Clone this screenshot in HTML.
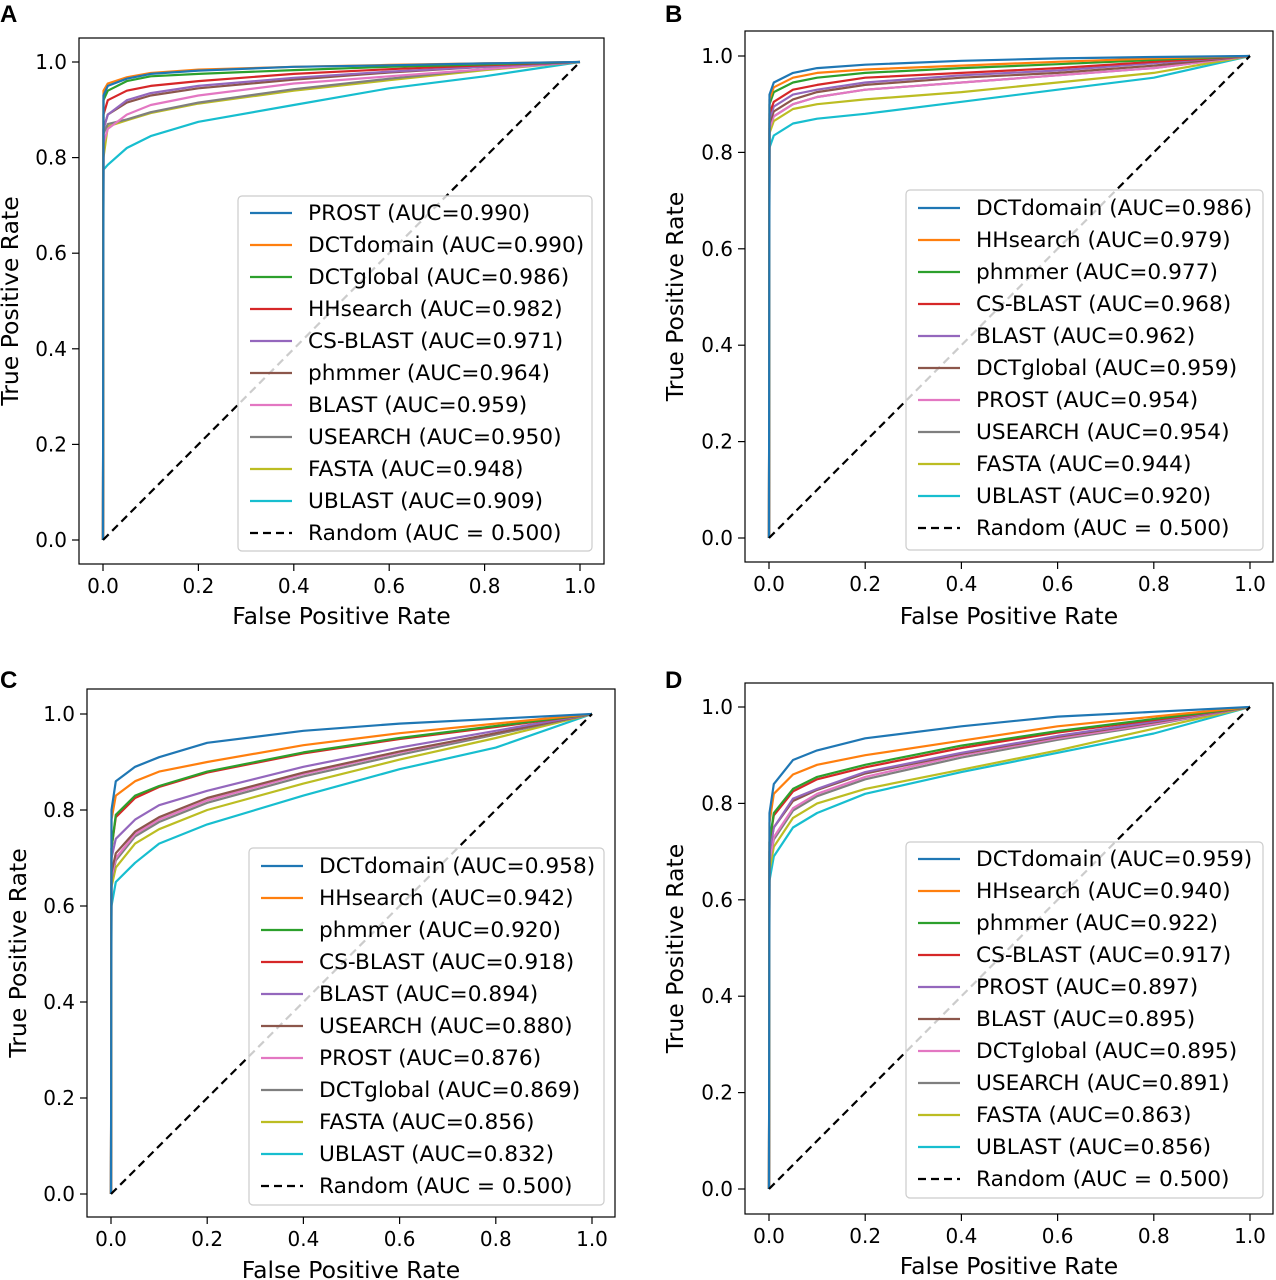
<!DOCTYPE html>
<html><head><meta charset="utf-8"><style>
body{margin:0;background:#fff;}
svg{display:block;font-family:"DejaVu Sans","Liberation Sans",sans-serif;}
</style></head><body>
<svg id="fig" width="1276" height="1280" viewBox="0 0 1276 1280" xmlns="http://www.w3.org/2000/svg"></svg>
<script>
const colors=["#1f77b4","#ff7f0e","#2ca02c","#d62728","#9467bd","#8c564b","#e377c2","#7f7f7f","#bcbd22","#17becf"];
const fprPoints=[0,0.001,0.01,0.05,0.1,0.2,0.4,0.6,0.8,1];
const ticks=[0,0.2,0.4,0.6,0.8,1.0];
const tickLabels=["0.0","0.2","0.4","0.6","0.8","1.0"];

const namesA=["PROST","DCTdomain","DCTglobal","HHsearch","CS-BLAST","phmmer","BLAST","USEARCH","FASTA","UBLAST"];
const aucA=["0.990","0.990","0.986","0.982","0.971","0.964","0.959","0.950","0.948","0.909"];
const tprA=[
[0,0.93,0.95,0.965,0.975,0.982,0.99,0.993,0.997,1],
[0,0.94,0.955,0.968,0.977,0.984,0.99,0.994,0.997,1],
[0,0.92,0.94,0.96,0.97,0.975,0.983,0.99,0.995,1],
[0,0.89,0.92,0.94,0.95,0.96,0.975,0.985,0.993,1],
[0,0.86,0.89,0.92,0.935,0.95,0.967,0.98,0.99,1],
[0,0.86,0.89,0.915,0.93,0.945,0.963,0.978,0.99,1],
[0,0.83,0.86,0.89,0.91,0.93,0.955,0.97,0.985,1],
[0,0.85,0.87,0.88,0.895,0.915,0.943,0.965,0.985,1],
[0,0.8,0.865,0.878,0.893,0.913,0.94,0.962,0.983,1],
[0,0.775,0.785,0.82,0.845,0.875,0.91,0.945,0.97,1]];

const namesB=["DCTdomain","HHsearch","phmmer","CS-BLAST","BLAST","DCTglobal","PROST","USEARCH","FASTA","UBLAST"];
const aucB=["0.986","0.979","0.977","0.968","0.962","0.959","0.954","0.954","0.944","0.920"];
const tprB=[
[0,0.92,0.945,0.965,0.975,0.982,0.99,0.995,0.998,1],
[0,0.91,0.935,0.955,0.965,0.972,0.98,0.988,0.995,1],
[0,0.9,0.925,0.945,0.955,0.965,0.975,0.983,0.992,1],
[0,0.88,0.905,0.93,0.94,0.955,0.965,0.975,0.988,1],
[0,0.87,0.895,0.92,0.93,0.945,0.96,0.97,0.985,1],
[0,0.86,0.885,0.91,0.925,0.94,0.955,0.965,0.98,1],
[0,0.85,0.875,0.9,0.915,0.93,0.945,0.96,0.975,1],
[0,0.85,0.875,0.9,0.915,0.93,0.945,0.96,0.975,1],
[0,0.84,0.865,0.89,0.9,0.91,0.925,0.945,0.965,1],
[0,0.81,0.835,0.86,0.87,0.88,0.905,0.93,0.955,1]];

const namesC=["DCTdomain","HHsearch","phmmer","CS-BLAST","BLAST","USEARCH","PROST","DCTglobal","FASTA","UBLAST"];
const aucC=["0.958","0.942","0.920","0.918","0.894","0.880","0.876","0.869","0.856","0.832"];
const tprC=[
[0,0.8,0.86,0.89,0.91,0.94,0.965,0.98,0.99,1],
[0,0.78,0.83,0.86,0.88,0.9,0.935,0.96,0.98,1],
[0,0.72,0.79,0.83,0.85,0.88,0.92,0.95,0.975,1],
[0,0.72,0.785,0.825,0.848,0.878,0.918,0.948,0.973,1],
[0,0.7,0.74,0.78,0.81,0.84,0.89,0.93,0.965,1],
[0,0.67,0.71,0.755,0.785,0.825,0.878,0.922,0.96,1],
[0,0.66,0.7,0.75,0.78,0.82,0.875,0.92,0.96,1],
[0,0.655,0.695,0.745,0.775,0.815,0.87,0.915,0.957,1],
[0,0.64,0.68,0.73,0.76,0.8,0.855,0.905,0.95,1],
[0,0.6,0.65,0.69,0.73,0.77,0.83,0.885,0.93,1]];

const namesD=["DCTdomain","HHsearch","phmmer","CS-BLAST","PROST","BLAST","DCTglobal","USEARCH","FASTA","UBLAST"];
const aucD=["0.959","0.940","0.922","0.917","0.897","0.895","0.895","0.891","0.863","0.856"];
const tprD=[
[0,0.78,0.84,0.89,0.91,0.935,0.96,0.98,0.99,1],
[0,0.76,0.82,0.86,0.88,0.9,0.93,0.96,0.98,1],
[0,0.72,0.78,0.83,0.855,0.88,0.92,0.95,0.975,1],
[0,0.72,0.775,0.825,0.85,0.875,0.915,0.947,0.973,1],
[0,0.7,0.75,0.81,0.83,0.865,0.905,0.94,0.97,1],
[0,0.7,0.75,0.805,0.828,0.862,0.903,0.938,0.968,1],
[0,0.68,0.73,0.79,0.82,0.855,0.9,0.935,0.965,1],
[0,0.68,0.725,0.785,0.815,0.85,0.895,0.932,0.963,1],
[0,0.66,0.71,0.77,0.8,0.83,0.87,0.91,0.955,1],
[0,0.64,0.69,0.75,0.78,0.82,0.865,0.905,0.945,1]];

const NS="http://www.w3.org/2000/svg";
const svg=document.getElementById('fig');
function mk(tag,attrs,parent){const e=document.createElementNS(NS,tag);for(const k in attrs)e.setAttribute(k,attrs[k]);(parent||svg).appendChild(e);return e;}

const panels=[
{letter:"A",lx:0,ly:22,box:[79,38,604,564],x0:103,x1:580,y0:540,y1:62,names:namesA,auc:aucA,tpr:tprA,leg:[238,196,592,551],ly0:213,xlabY:630,ylabX:18},
{letter:"B",lx:665,ly:22,box:[745,31,1273,562],x0:769,x1:1250,y0:538,y1:56,names:namesB,auc:aucB,tpr:tprB,leg:[906,190,1263,550],ly0:208,xlabY:630,ylabX:683},
{letter:"C",lx:0,ly:688,box:[87,689,615,1217],x0:111,x1:592,y0:1194,y1:714,names:namesC,auc:aucC,tpr:tprC,leg:[249,848,604,1205],ly0:866,xlabY:1284,ylabX:26},
{letter:"D",lx:665,ly:688,box:[745,683,1273,1214],x0:769,x1:1250,y0:1189,y1:707,names:namesD,auc:aucD,tpr:tprD,leg:[906,842,1263,1198],ly0:859,xlabY:1280,ylabX:683}];

panels.forEach(p=>{
  const g=mk('g',{});
  
  
  const sx=v=>p.x0+v*(p.x1-p.x0), sy=v=>p.y0+v*(p.y1-p.y0);
  const t=mk('text',{x:p.lx,y:p.ly,'font-size':24,'font-weight':'bold','font-family':'Liberation Sans, sans-serif'},g);t.textContent=p.letter;
  
  const [bx0,by0,bx1,by1]=p.box;
  ticks.forEach((v,i)=>{
    mk('line',{x1:sx(v),x2:sx(v),y1:by1,y2:by1+7,stroke:'#000','stroke-width':1.2},g);
    const tx=mk('text',{x:sx(v),y:by1+29,'font-size':20,'text-anchor':'middle'},g);tx.textContent=tickLabels[i];
    
    mk('line',{x1:bx0-7,x2:bx0,y1:sy(v),y2:sy(v),stroke:'#000','stroke-width':1.2},g);
    const ty=mk('text',{x:bx0-12,y:sy(v)+7,'font-size':20,'text-anchor':'end'},g);ty.textContent=tickLabels[i];
    
  });
  const xl=mk('text',{x:(bx0+bx1)/2,y:p.xlabY-6,'font-size':23.5,'text-anchor':'middle'},g);xl.textContent="False Positive Rate";
  
  const yc=(by0+by1)/2;
  const yl=mk('text',{x:p.ylabX,y:yc,'font-size':23.5,'text-anchor':'middle',transform:`rotate(-90 ${p.ylabX} ${yc})`},g);yl.textContent="True Positive Rate";
  
  for(let i=p.names.length-1;i>=0;i--){
    const pts=fprPoints.map((f,j)=>sx(f).toFixed(1)+','+sy(p.tpr[i][j]).toFixed(1)).join(' ');
    const pl=mk('polyline',{points:pts,fill:'none',stroke:colors[i],'stroke-width':2.2,'stroke-linejoin':'round'},g);
    
    
  }
  const rl=mk('line',{x1:sx(0),y1:sy(0),x2:sx(1),y2:sy(1),stroke:'#000','stroke-width':2.2,'stroke-dasharray':'8,5'},g);
  
  mk('rect',{x:bx0,y:by0,width:bx1-bx0,height:by1-by0,fill:'none',stroke:'#000','stroke-width':1.2},g);
  const [lx0,ly0,lx1,ly1]=p.leg;
  const lg=mk('g',{},g);
  
  mk('rect',{x:lx0,y:ly0,width:lx1-lx0,height:ly1-ly0,fill:'#fff','fill-opacity':0.8,stroke:'#ccc','stroke-width':1.2,rx:4},lg);
  const entries=p.names.map((n,i)=>[n+" (AUC="+p.auc[i]+")",colors[i],false]).concat([["Random (AUC = 0.500)","#000",true]]);
  entries.forEach((e,i)=>{
    const y=p.ly0+i*32;
    const eg=mk('g',{},lg);
    
    const ln=mk('line',{x1:lx0+12,x2:lx0+54,y1:y,y2:y,stroke:e[1],'stroke-width':2.2},eg);
    if(e[2])ln.setAttribute('stroke-dasharray','8,5');
    const tx=mk('text',{x:lx0+70,y:y+7,'font-size':21.7},eg);tx.textContent=e[0];
  });
});
</script>
</body></html>
